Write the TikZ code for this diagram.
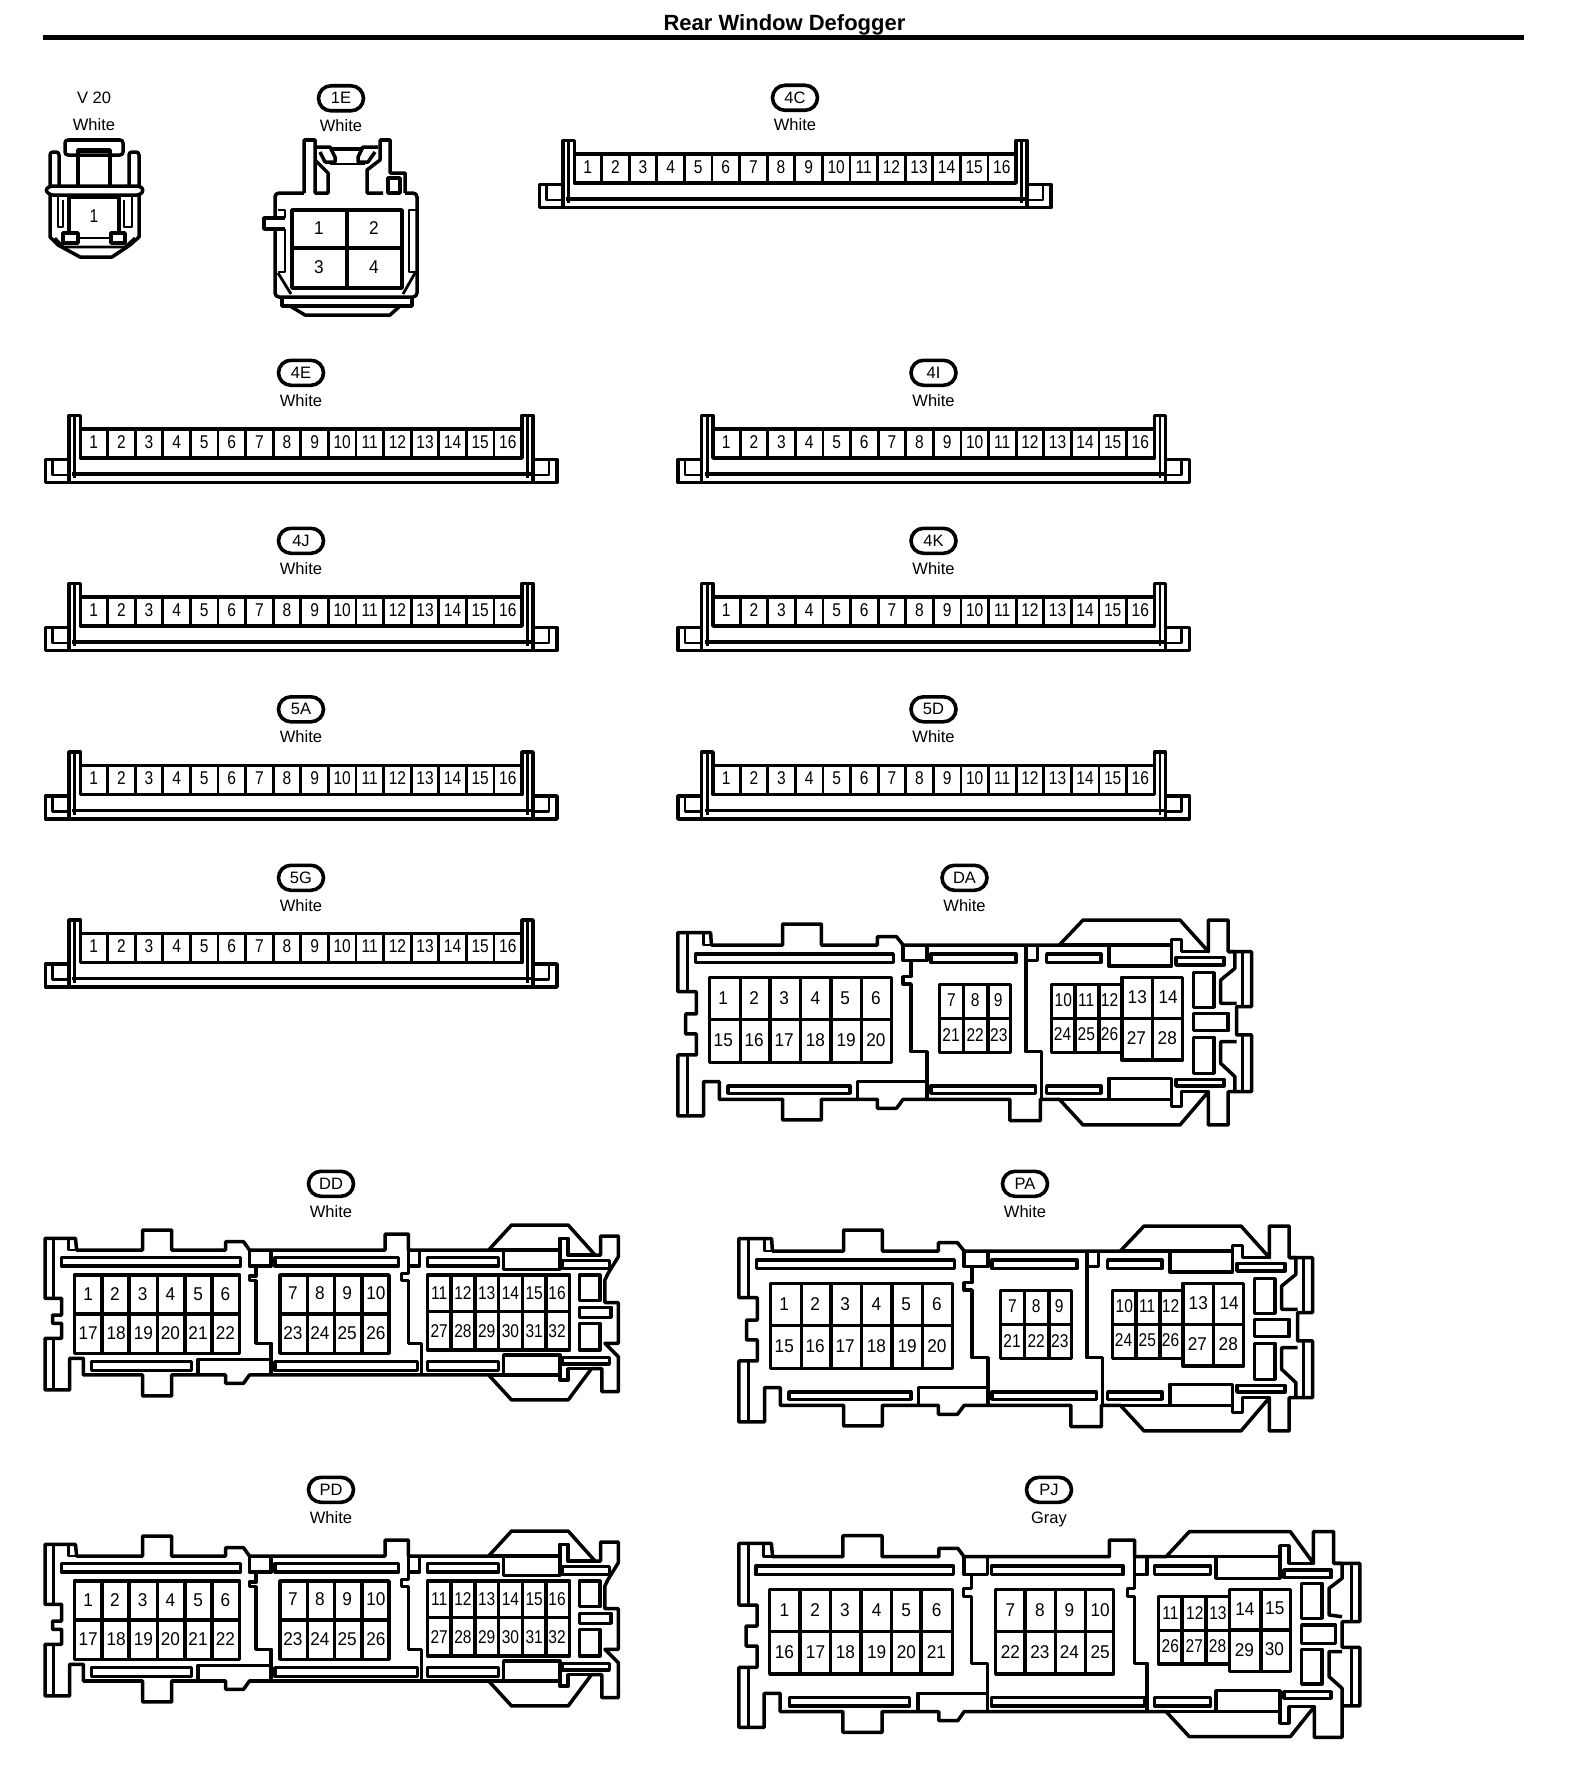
\documentclass[tikz,border=0pt]{standalone}
\usepackage{fontspec}
\setmainfont{Liberation Sans}
\newfontfamily\pinfont[FakeStretch=0.84]{Liberation Sans}
\newfontfamily\widepinfont[FakeStretch=0.93]{Liberation Sans}
\usepackage{tikz}
\usetikzlibrary{shapes}
\tikzset{
  wire/.style={line width=3.5pt, line join=round},
  thinwire/.style={line width=2.8pt, line join=round},
  pin/.style={inner sep=0pt, font=\pinfont\fontsize{18.5}{20}\selectfont},
  widepin/.style={inner sep=0pt, font=\widepinfont\fontsize{18.5}{20}\selectfont},
  oval/.style={draw, rounded rectangle, line width=3.6pt, inner sep=0pt, minimum width=45pt, minimum height=25pt, font=\fontsize{16.5}{18}\selectfont},
  colorlab/.style={inner sep=0pt, anchor=base, font=\fontsize{16.5}{18}\selectfont}
}
% label above a connector: code in the oval, colour below
\newcommand{\connlabel}[4]{
  \node[oval] (lab#1) at (#2, #3+0.8) {#1};
  \node[colorlab] (col#1) at (#2, #3+34) {#4};
}
% strip connector with 16 pins
\newcommand{\stripconn}[3]{
  \begin{scope}[shift={(#2, #3)}]
    \draw[wire] (69, 459.5) -- (45.5, 459.5) -- (45.5, 482.5) -- (557, 482.5) -- (557, 459.5) -- (533, 459.5);
    \draw[thinwire] (52.5, 460) -- (52.5, 475) -- (70, 475);
    \draw[thinwire] (549, 460) -- (549, 475) -- (532, 475);
    \draw[wire] (72, 474) -- (531, 474);
    \draw[wire] (69, 482.5) -- (69, 415.5) -- (80.5, 415.5) -- (80.5, 429);
    \draw[wire] (522, 429) -- (522, 415.5) -- (533, 415.5) -- (533, 482.5);
    \draw[thinwire] (74.8, 415.5) -- (74.8, 478);
    \draw[thinwire] (527.5, 415.5) -- (527.5, 478);
    % pins
    \draw[wire] (80.5, 429) rectangle (522, 458);
    \foreach \n in {1, ..., 15} {
      \draw[thinwire] ({80+27.6*\n}, 429) -- ({80+27.6*\n}, 458);
    }
    \foreach \n in {1, ..., 16} {
      \node[pin] (#1-\n) at ({93.8+27.6*(\n-1)}, 442) {\n};
    }
  \end{scope}
}
% connector housing with the 6+3+3+2 pin blocks
\newcommand{\shellA}[3]{
  \begin{scope}[shift={(660+#2, 860+#3)}, xscale=0.3954, yscale=0.3333]
    \draw[wire] (45,218) -- (128,218) -- (130,255) -- (310,255) -- (310,192) -- (408,192) -- (408,255) -- (550,255) -- (550,230) -- (598,230) -- (615,255) -- (1010,255) -- (1070,180) -- (1315,180) -- (1387,275) -- (1387,180) -- (1437,180) -- (1437,275) -- (1496,275) -- (1496,440) -- (1458,440) -- (1458,525) -- (1496,525) -- (1496,695) -- (1437,695) -- (1437,795) -- (1387,795) -- (1387,695) -- (1315,795) -- (1070,795) -- (1010,718) -- (962,718) -- (962,782) -- (885,782) -- (885,718) -- (615,718) -- (598,745) -- (550,745) -- (550,718) -- (408,718) -- (408,780) -- (310,780) -- (310,718) -- (150,718) -- (150,665) -- (110,665) -- (110,768) -- (45,768) -- (45,585) -- (92,585) -- (92,522) -- (65,522) -- (65,462) -- (92,462) -- (92,395) -- (45,395) -- cycle;
    % inner lines left
    \draw[thinwire] (70,222) -- (70,395);
    \draw[thinwire] (70,585) -- (70,765);
    \draw[thinwire] (110,222) -- (110,255) -- (130,255);
    % top and bottom slots
    \foreach \xa/\ya/\xb/\yb in {90/282/590/308, 172/678/480/700, 685/282/900/308, 685/678/950/700, 978/282/1115/308, 978/678/1115/700, 1305/292/1426/315, 1305/658/1426/678, 1349/338/1401/442, 1349/460/1437/512, 1349/532/1401/640} {
      \draw[wire] (\xa,\ya) rectangle (\xb,\yb);
    }
    \draw[wire] (1010,255) -- (1294,255);
    \draw[wire] (1010,718) -- (1294,718);
    \draw[wire] (1135,255) -- (1135,318) -- (1294,318) -- (1294,238) -- (1319,238) -- (1319,275) -- (1387,275);
    \draw[wire] (1135,718) -- (1135,655) -- (1294,655) -- (1294,740) -- (1319,740) -- (1319,695) -- (1387,695);
    % right side
    \draw[wire] (1437,275) -- (1454,275) -- (1454,325) -- (1418,360) -- (1418,430) -- (1458,430);
    \draw[wire] (1458,545) -- (1418,545) -- (1418,610) -- (1454,650) -- (1454,695);
    \draw[thinwire] (1473,275) -- (1473,440);
    \draw[thinwire] (1473,525) -- (1473,695);
    % dividers
    \draw[wire] (615,255) -- (615,302) -- (675,302) -- (675,255);
    \draw[wire] (635,302) -- (635,350) -- (615,350) -- (615,372) -- (635,372) -- (635,575) -- (675,575) -- (675,718);
    \draw[wire] (925,255) -- (925,575) -- (965,575) -- (965,718);
    \draw[wire] (925,302) -- (955,302) -- (955,255);
    \draw[wire] (500,718) -- (500,665) -- (675,665);
    % pin blocks
    \draw[wire] (125,352) rectangle (585,607);
    \draw[wire] (125,478) -- (585,478);
    \foreach \x in {203,278,355,433,510} {
      \draw[wire] (\x,352) -- (\x,607);
    }
    \draw[wire] (707,374) rectangle (887,578);
    \draw[wire] (707,475) -- (887,475);
    \foreach \x in {768,830} {
      \draw[wire] (\x,374) -- (\x,578);
    }
    \draw[wire] (990,374) rectangle (1168,578);
    \draw[wire] (990,475) -- (1168,475);
    \foreach \x in {1050,1110} {
      \draw[wire] (\x,374) -- (\x,578);
    }
    \draw[wire] (1168,352) rectangle (1322,600);
    \draw[wire] (1168,475) -- (1322,475);
    \draw[wire] (1245,352) -- (1245,600);
    \foreach \n/\x/\y in {1/160/415, 2/238/415, 3/314/415, 4/393/415, 5/468/415, 6/546/415, 15/160/540, 16/238/540, 17/314/540, 18/393/540, 19/471/540, 20/546/540, 13/1207/410, 14/1285/410, 27/1205/535, 28/1283/535} {
      \node[widepin] (#1-\n) at (\x,\y) {\n};
    }
    \foreach \n/\x/\y in {7/737/420, 8/797/420, 9/855/420, 21/736/525, 22/797/525, 23/857/525, 10/1020/420, 11/1078/420, 12/1137/420, 24/1018/522, 25/1078/522, 26/1137/522} {
      \node[pin] (#1-\n) at (\x,\y) {\n};
    }
  \end{scope}
}
% housing with the 6+4+6 pin blocks
\newcommand{\shellD}[3]{
  \begin{scope}[shift={(30+#2, 1170+#3)}, xscale=0.3954, yscale=0.3333]
    \draw[wire] (38,205) -- (115,205) -- (118,240) -- (285,240) -- (285,180) -- (358,180) -- (358,240) -- (495,240) -- (495,215) -- (540,215) -- (555,240) -- (898,240) -- (898,192) -- (957,192) -- (957,240) -- (1160,240) -- (1218,165) -- (1361,165) -- (1429,255) -- (1443,255) -- (1443,198) -- (1488,198) -- (1488,260) -- (1462,310) -- (1454,330) -- (1454,398) -- (1488,398) -- (1488,520) -- (1454,520) -- (1488,560) -- (1488,665) -- (1446,665) -- (1446,596) -- (1420,596) -- (1361,690) -- (1218,690) -- (1160,615) -- (990,615) -- (555,615) -- (540,640) -- (495,640) -- (495,615) -- (358,615) -- (358,678) -- (285,678) -- (285,615) -- (135,615) -- (135,565) -- (100,565) -- (100,660) -- (38,660) -- (38,505) -- (80,505) -- (80,460) -- (57,460) -- (57,435) -- (80,435) -- (80,385) -- (38,385) -- cycle;
    \draw[thinwire] (60,210) -- (60,385);
    \draw[thinwire] (60,505) -- (60,655);
    \draw[thinwire] (97,210) -- (97,240) -- (118,240);
    % slots and small windows
    \foreach \xa/\ya/\xb/\yb in {80/262/532/288, 155/575/408/602, 620/262/932/288, 620/575/980/602, 1005/262/1185/288, 1005/575/1185/602, 1347/272/1465/295, 1347/562/1465/582, 1390/315/1441/392, 1390/412/1470/442, 1390/460/1441/540} {
      \draw[wire] (\xa,\ya) rectangle (\xb,\yb);
    }
    \draw[wire] (1160,240) -- (1340,240);
    \draw[wire] (1198,240) -- (1198,298) -- (1340,298) -- (1340,205) -- (1361,205) -- (1361,255) -- (1429,255);
    \draw[wire] (1160,615) -- (1340,615);
    \draw[wire] (1198,615) -- (1198,555) -- (1340,555) -- (1340,630) -- (1361,630) -- (1361,596) -- (1420,596);
    % dividers
    \draw[wire] (555,240) -- (555,288) -- (610,288) -- (610,240);
    \draw[wire] (572,288) -- (572,318) -- (555,318) -- (555,332) -- (572,332) -- (572,520) -- (610,520) -- (610,615);
    \draw[wire] (957,240) -- (957,310) -- (940,310) -- (940,332) -- (957,332) -- (957,520) -- (990,520) -- (990,615);
    \draw[wire] (960,288) -- (985,288) -- (985,240);
    \draw[wire] (425,615) -- (425,568) -- (610,568);
    % pin blocks
    \draw[wire] (112,315) rectangle (530,550);
    \draw[wire] (112,432) -- (530,432);
    \foreach \x in {182,250,322,392,460} {
      \draw[wire] (\x,315) -- (\x,550);
    }
    \draw[wire] (632,315) rectangle (908,550);
    \draw[wire] (632,432) -- (908,432);
    \foreach \x in {702,770,840} {
      \draw[wire] (\x,315) -- (\x,550);
    }
    \draw[wire] (1005,315) rectangle (1365,540);
    \draw[wire] (1005,425) -- (1365,425);
    \foreach \x in {1065,1125,1185,1245,1305} {
      \draw[wire] (\x,315) -- (\x,540);
    }
    \foreach \n/\x/\y in {1/147/372, 2/215/372, 3/285/372, 4/355/372, 5/425/372, 6/494/372, 17/147/490, 18/218/490, 19/287/490, 20/355/490, 21/425/490, 22/494/490, 7/665/370, 8/733/370, 9/802/370, 10/875/370, 23/665/490, 24/733/490, 25/802/490, 26/875/490} {
      \node[widepin] (#1-\n) at (\x,\y) {\n};
    }
    \foreach \n/\x/\y in {11/1035/370, 12/1095/370, 13/1155/370, 14/1215/370, 15/1275/370, 16/1333/370, 27/1035/482, 28/1095/482, 29/1155/482, 30/1215/482, 31/1275/482, 32/1333/482} {
      \node[pin] (#1-\n) at (\x,\y) {\n};
    }
  \end{scope}
}
% housing with the 6+4+3+2 pin blocks
\newcommand{\shellJ}[3]{
  \begin{scope}[shift={(720+#2, 1480+#3)}, xscale=0.4209, yscale=0.3333]
    \draw[wire] (45,190) -- (122,190) -- (125,230) -- (292,230) -- (292,167) -- (385,167) -- (385,230) -- (520,230) -- (520,205) -- (565,205) -- (580,230) -- (925,230) -- (925,180) -- (985,180) -- (985,230) -- (1060,230) -- (1115,155) -- (1355,155) -- (1410,250) -- (1410,155) -- (1458,155) -- (1458,250) -- (1520,250) -- (1520,425) -- (1478,425) -- (1478,502) -- (1520,502) -- (1520,678) -- (1478,678) -- (1478,772) -- (1412,772) -- (1412,680) -- (1355,770) -- (1115,770) -- (1060,695) -- (580,695) -- (565,722) -- (520,722) -- (520,695) -- (385,695) -- (385,757) -- (292,757) -- (292,695) -- (143,695) -- (143,640) -- (105,640) -- (105,742) -- (45,742) -- (45,562) -- (88,562) -- (88,498) -- (62,498) -- (62,438) -- (88,438) -- (88,375) -- (45,375) -- cycle;
    \draw[thinwire] (67,195) -- (67,375);
    \draw[thinwire] (67,562) -- (67,738);
    \draw[thinwire] (104,195) -- (104,230) -- (125,230);
    % slots and small windows
    \foreach \xa/\ya/\xb/\yb in {85/258/555/284, 165/652/450/678, 645/258/958/284, 645/652/1008/678, 1032/258/1165/284, 1032/652/1165/678, 1340/270/1452/293, 1340/635/1452/655, 1382/310/1430/415, 1382/435/1462/490, 1382/508/1430/612} {
      \draw[wire] (\xa,\ya) rectangle (\xb,\yb);
    }
    \draw[wire] (1060,230) -- (1330,230);
    \draw[wire] (1178,230) -- (1178,295) -- (1330,295) -- (1330,197) -- (1352,197) -- (1352,250) -- (1410,250);
    \draw[wire] (1060,695) -- (1330,695);
    \draw[wire] (1178,695) -- (1178,632) -- (1330,632) -- (1330,730) -- (1352,730) -- (1352,680) -- (1412,680);
    % right side
    \draw[wire] (1458,250) -- (1478,250) -- (1478,295) -- (1447,325) -- (1447,405) -- (1478,410);
    \draw[wire] (1478,515) -- (1447,515) -- (1447,590) -- (1478,625) -- (1478,678);
    \draw[thinwire] (1500,250) -- (1500,425);
    \draw[thinwire] (1500,502) -- (1500,678);
    % dividers
    \draw[wire] (580,230) -- (580,284) -- (635,284) -- (635,230);
    \draw[wire] (597,284) -- (597,325) -- (578,325) -- (578,350) -- (597,350) -- (597,550) -- (635,550) -- (635,695);
    \draw[wire] (985,230) -- (985,325) -- (968,325) -- (968,350) -- (985,350) -- (985,550) -- (1015,550) -- (1015,695);
    \draw[wire] (985,284) -- (1015,284) -- (1015,230);
    \draw[wire] (470,695) -- (470,640) -- (635,640);
    % pin blocks
    \draw[wire] (118,328) rectangle (552,582);
    \draw[wire] (118,455) -- (552,455);
    \foreach \x in {190,262,335,408,478} {
      \draw[wire] (\x,328) -- (\x,582);
    }
    \draw[wire] (655,328) rectangle (935,582);
    \draw[wire] (655,455) -- (935,455);
    \foreach \x in {725,797,868} {
      \draw[wire] (\x,328) -- (\x,582);
    }
    \draw[wire] (1042,350) rectangle (1210,552);
    \draw[wire] (1042,452) -- (1210,452);
    \foreach \x in {1098,1155} {
      \draw[wire] (\x,350) -- (\x,552);
    }
    \draw[wire] (1210,328) rectangle (1355,575);
    \draw[wire] (1210,450) -- (1355,450);
    \draw[wire] (1285,328) -- (1285,575);
    \foreach \n/\x/\y in {1/153/390, 2/226/390, 3/297/390, 4/372/390, 5/442/390, 6/515/390, 16/153/517, 17/227/517, 18/298/517, 19/372/517, 20/443/517, 21/514/517, 7/690/390, 8/760/390, 9/830/390, 10/903/390, 22/690/517, 23/760/517, 24/830/517, 25/903/517, 14/1247/388, 15/1318/385, 29/1246/510, 30/1317/508} {
      \node[widepin] (#1-\n) at (\x,\y) {\n};
    }
    \foreach \n/\x/\y in {11/1070/398, 12/1128/398, 13/1183/398, 26/1070/498, 27/1127/498, 28/1182/498} {
      \node[pin] (#1-\n) at (\x,\y) {\n};
    }
  \end{scope}
}
\begin{document}
\begin{tikzpicture}[x=1pt, y=-1pt]
  \useasboundingbox (0, 0) rectangle (1568, 1774);
  % title
  \node[inner sep=0pt, anchor=base, font=\bfseries\fontsize{22}{24}\selectfont] (title) at (784.5, 31) {Rear Window Defogger};
  \draw[line width=5pt] (43, 37.5) -- (1524, 37.5);
  % V 20
  \node[colorlab] (labV20) at (94, 104) {V 20};
  \node[colorlab] (colV20) at (94, 131) {White};
  \draw[wire, rounded corners=3pt] (65, 140) rectangle (123, 155);
  \draw[wire] (78, 185) -- (78, 150) -- (110, 150) -- (110, 185);
  \draw[thinwire] (78, 152) -- (110, 152);
  \draw[wire, rounded corners=3pt] (50, 187) -- (50, 152) -- (59, 152) -- (59, 187);
  \draw[wire, rounded corners=3pt] (129, 187) -- (129, 152) -- (139, 152) -- (139, 187);
  \draw[wire, rounded corners=3pt] (50, 186) -- (140, 186) -- (144, 190) -- (140, 195) -- (50, 195) -- (45, 190) -- cycle;
  \draw[wire] (50, 195) -- (50, 237) -- (58, 245) -- (80, 257) -- (112, 257) -- (130, 245) -- (139, 237) -- (139, 195);
  \draw[wire] (69, 233) -- (69, 197) -- (119, 197) -- (119, 233);
  \draw[thinwire] (78, 238) -- (111, 238);
  \draw[thinwire] (58, 197) -- (58, 227) -- (63, 227) -- (63, 200);
  \draw[thinwire] (132, 197) -- (132, 227) -- (124, 227) -- (124, 200);
  \draw[wire] (63, 233) rectangle (78, 243);
  \draw[wire] (111, 233) rectangle (125, 243);
  \draw[thinwire] (55, 238) -- (63, 247) -- (125, 247) -- (135, 238);
  \node[pin] (V20-1) at (94, 216) {1};
  % 1E
  \connlabel{1E}{341}{97.5}{White}
  \draw[wire, rounded corners=4pt] (275, 218) -- (275, 193) -- (304, 193);
  \draw[wire, rounded corners=4pt] (275, 230) -- (275, 297) -- (417, 297) -- (417, 193) -- (405, 193);
  \draw[wire] (304, 193) -- (304, 140) -- (315, 140) -- (315, 193) -- (328, 193) -- (328, 173) -- (315, 160);
  \draw[wire] (405, 193) -- (405, 173) -- (390, 173) -- (390, 140) -- (380, 140) -- (380, 160) -- (367, 170) -- (367, 193) -- (383, 193);
  \draw[wire] (388, 178) rectangle (400, 193);
  \draw[wire] (330, 149) -- (363, 149);
  \draw[thinwire] (330, 164) -- (365, 164);
  \draw[wire] (315, 147) -- (330, 147) -- (335, 157) -- (335, 162) -- (325, 162) -- (320, 152);
  \draw[wire] (378, 147) -- (363, 147) -- (358, 157) -- (358, 162) -- (368, 162) -- (375, 152);
  \draw[wire] (285, 218) -- (264, 218) -- (264, 229) -- (285, 229);
  \draw[thinwire] (278, 210) -- (285, 210) -- (285, 218);
  \draw[thinwire] (285, 229) -- (285, 272) -- (278, 272);
  \draw[thinwire] (417, 210) -- (409, 210) -- (409, 272) -- (417, 272);
  \draw[wire] (292, 210) rectangle (402, 288);
  \draw[wire] (347, 210) -- (347, 288);
  \draw[wire] (292, 248) -- (402, 248);
  \draw[thinwire] (278, 273) -- (291, 294);
  \draw[thinwire] (415, 273) -- (403, 294);
  \draw[wire] (282, 297) -- (282, 306) -- (412, 306) -- (412, 297);
  \draw[wire] (290, 306) -- (305, 315) -- (390, 315) -- (400, 306);
  \foreach \n/\x/\y in {1/319/228, 2/374/228, 3/319/267, 4/374/267} {
    \node[widepin] (1E-\n) at (\x, \y) {\n};
  }
  % strip connectors
  \connlabel{4C}{795}{97}{White}
  \stripconn{4C}{494}{-275}
  \connlabel{4E}{301}{372}{White}
  \stripconn{4E}{0}{0}
  \connlabel{4I}{933.5}{372}{White}
  \stripconn{4I}{632.5}{0}
  \connlabel{4J}{301}{540}{White}
  \stripconn{4J}{0}{168}
  \connlabel{4K}{933.5}{540}{White}
  \stripconn{4K}{632.5}{168}
  \connlabel{5A}{301}{708.5}{White}
  \stripconn{5A}{0}{336.5}
  \connlabel{5D}{933.5}{708.5}{White}
  \stripconn{5D}{632.5}{336.5}
  \connlabel{5G}{301}{877}{White}
  \stripconn{5G}{0}{504.5}
  % housings
  \connlabel{DA}{964.5}{877}{White}
  \shellA{DA}{0}{0}
  \connlabel{DD}{331}{1183}{White}
  \shellD{DD}{0}{0}
  \connlabel{PA}{1025}{1183}{White}
  \shellA{PA}{61}{306}
  \connlabel{PD}{331}{1489}{White}
  \shellD{PD}{0}{306}
  \connlabel{PJ}{1049}{1489}{Gray}
  \shellJ{PJ}{0}{0}
\end{tikzpicture}
\end{document}
